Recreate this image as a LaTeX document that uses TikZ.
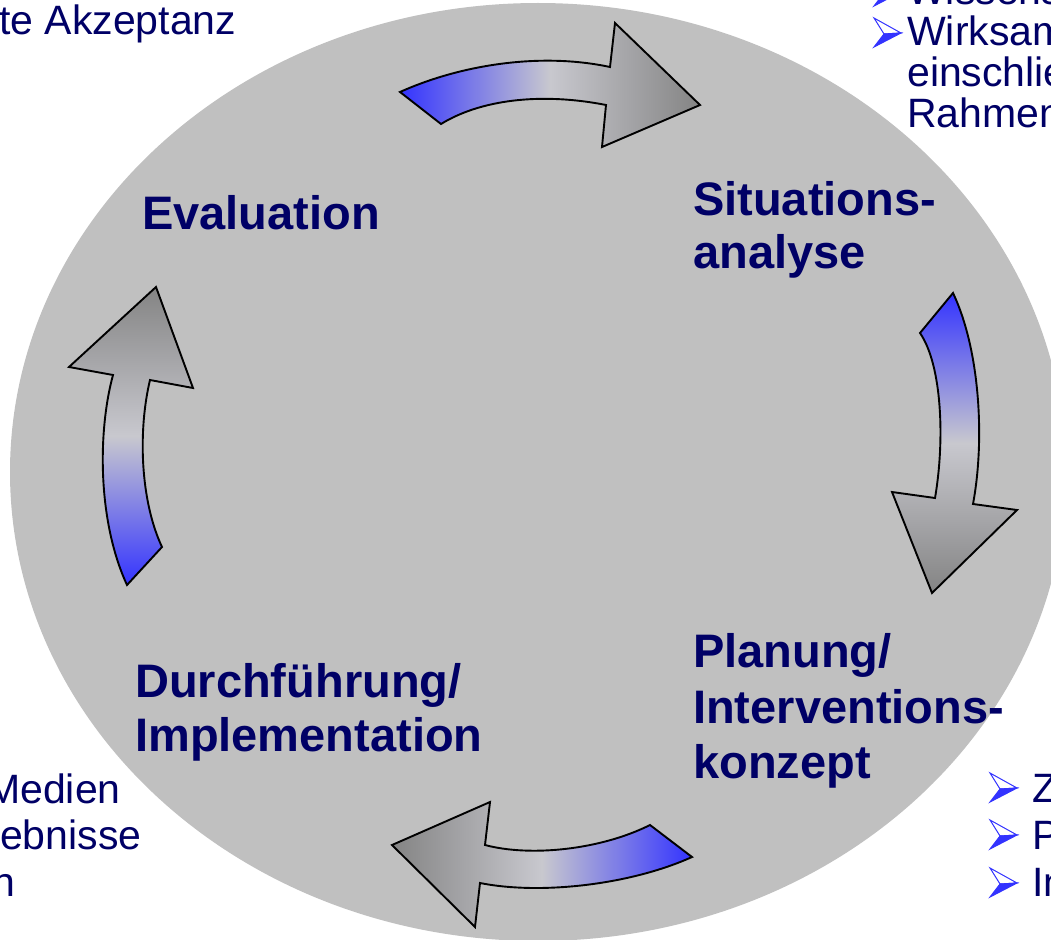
\documentclass[tikz,border=0pt]{standalone}
\usepackage{fontspec}
\setmainfont{Liberation Sans}
\definecolor{disc}{RGB}{192,192,192}
\definecolor{navytext}{RGB}{0,0,102}
\definecolor{arrowblue}{RGB}{51,51,255}
\definecolor{arrowlight}{RGB}{200,200,206}
\definecolor{arrowdark}{RGB}{132,132,132}
\definecolor{bulletblue}{RGB}{51,51,255}
\begin{document}
\begin{tikzpicture}[x=1pt,y=-1pt,
  phase/.style={anchor=base west, inner sep=0pt, text=navytext,
    font=\fontsize{47}{56}\bfseries\selectfont},
  note/.style={anchor=base west, inner sep=0pt, text=navytext,
    font=\fontsize{41}{46}\selectfont},
  blockarrow/.style={draw=black, line width=1.9pt, line join=miter},
  bul/.pic={
    \filldraw[draw=bulletblue, fill=white, line width=1pt, line join=miter]
      (0,0) -- (27,15) -- (10,16) -- cycle;
    \filldraw[draw=bulletblue, fill=bulletblue, line width=1pt, line join=miter]
      (10,16) -- (27,15) -- (0,29) -- cycle;
  }]
\useasboundingbox (0,0) rectangle (1051,939);
\clip (0,0) rectangle (1051,939);

% grey disc behind the cycle
\fill[disc] (538,472) ellipse [x radius=528, y radius=469];

% side notes, cut off at the page edges
\node[note] (accept) at (-1,35) {te Akzeptanz};

\pic at (874,-23) {bul};
\node[note] (wiss) at (907,5) {Wissens};
\pic at (874,18) {bul};
\node[note] (wirk) at (907,46) {Wirksam};
\node[note] (einsch) at (907,87) {einschlie};
\node[note] (rahm) at (907,128) {Rahmen};

\node[note] (medien) at (-14,803) {Medien};
\node[note] (ergeb) at (0,849) {ebnisse};
\node[note] (nline) at (-8,896) {n};

\pic at (990,773) {bul};
\node[note] (zline) at (1032,802) {Z};
\pic at (990,820) {bul};
\node[note] (pline) at (1032,849) {P};
\pic at (990,868) {bul};
\node[note] (inline) at (1032,896) {In};

% phase labels
\node[phase] (eval) at (142,229) {Evaluation};
\node[phase] (sit1) at (693,215) {Situations-};
\node[phase] (sit2) at (693,268) {analyse};
\node[phase] (plan1) at (693,667) {Planung/};
\node[phase] (plan2) at (693,723) {Interventions-};
\node[phase] (plan3) at (693,778) {konzept};
\node[phase] (durch1) at (135,697) {Durchführung/};
\node[phase] (durch2) at (135,751) {Implementation};

% curved block arrows, shaded from tail to head
% (middle color must follow the outer colours, or it is reset)
\path[blockarrow, left color=arrowblue, right color=arrowdark, middle color=arrowlight]
  (400,92) .. controls (460,65) and (540,52) .. (610,67)
  -- (615,23) -- (700,105) -- (602,147) -- (606,105)
  .. controls (540,92) and (480,100) .. (441,124) -- cycle;

\path[blockarrow, top color=arrowblue, bottom color=arrowdark, middle color=arrowlight]
  (953,293) -- (920,333)
  .. controls (942,365) and (945,440) .. (935,498)
  -- (892,492) -- (932,593) -- (1017,510) -- (973,504)
  .. controls (985,440) and (980,350) .. (953,293) -- cycle;

\path[blockarrow, left color=arrowdark, right color=arrowblue, middle color=arrowlight]
  (692,857) -- (650,825)
  .. controls (600,850) and (530,857) .. (485,845)
  -- (490,802) -- (392,845) -- (475,927) -- (480,883)
  .. controls (540,895) and (630,885) .. (692,857) -- cycle;

\path[blockarrow, top color=arrowdark, bottom color=arrowblue, middle color=arrowlight]
  (127,585) -- (162,547)
  .. controls (140,500) and (138,430) .. (150,380)
  -- (193,388) -- (156,287) -- (69,367) -- (113,375)
  .. controls (98,430) and (97,520) .. (127,585) -- cycle;
\end{tikzpicture}
\end{document}
